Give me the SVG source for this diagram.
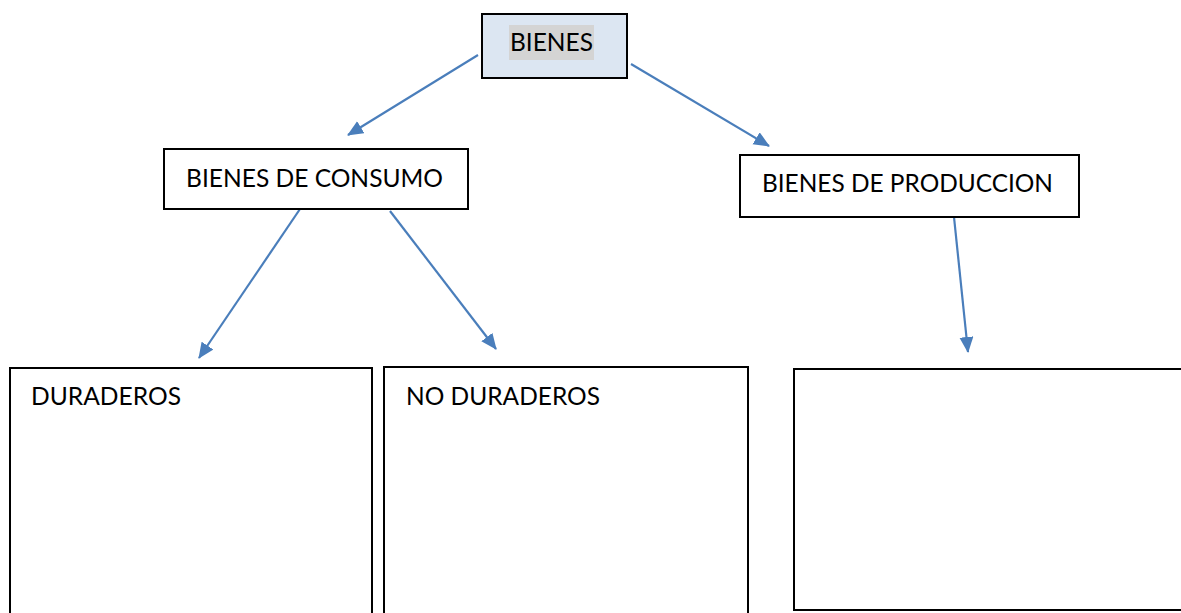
<svg xmlns="http://www.w3.org/2000/svg" width="1181" height="613" viewBox="0 0 1181 613">
  <style>
    .box { fill: #ffffff; stroke: #000000; stroke-width: 2; }
    .label { font-family: Lato, "Open Sans", "Liberation Sans", sans-serif; font-size: 25px; fill: #000000; }
    .conn { stroke: #4A7EBB; stroke-width: 2.2; fill: none; marker-end: url(#arrow); }
  </style>
  <defs>
    <marker id="arrow" markerUnits="userSpaceOnUse" markerWidth="17" markerHeight="15" refX="15" refY="7" orient="auto">
      <path d="M0,0 L16,7 L0,14 z" fill="#4A7EBB"/>
    </marker>
  </defs>
  <rect width="1181" height="613" fill="#ffffff"/>

  <g id="connectors">
    <line class="conn" x1="478" y1="55" x2="348" y2="135"/>
    <line class="conn" x1="631" y1="64" x2="769" y2="146"/>
    <line class="conn" x1="300" y1="209" x2="199" y2="358"/>
    <line class="conn" x1="390" y1="211" x2="496" y2="349"/>
    <line class="conn" x1="954" y1="217" x2="968" y2="352"/>
  </g>

  <g id="node-bienes">
    <rect x="482" y="14" width="145" height="64" fill="#DCE6F2" stroke="#000000" stroke-width="2"/>
    <rect x="509" y="25" width="85" height="35" fill="#D4D4D4"/>
    <text class="label" x="510" y="51" textLength="83" lengthAdjust="spacingAndGlyphs">BIENES</text>
  </g>

  <g id="node-consumo">
    <rect class="box" x="164" y="149" width="304" height="60"/>
    <text class="label" x="186" y="187" textLength="257" lengthAdjust="spacingAndGlyphs">BIENES DE CONSUMO</text>
  </g>

  <g id="node-produccion">
    <rect class="box" x="740" y="155" width="339" height="62"/>
    <text class="label" x="762" y="192" textLength="291" lengthAdjust="spacingAndGlyphs">BIENES DE PRODUCCION</text>
  </g>

  <g id="node-duraderos">
    <rect class="box" x="10" y="368" width="362" height="250"/>
    <text class="label" x="31" y="405" textLength="150" lengthAdjust="spacingAndGlyphs">DURADEROS</text>
  </g>

  <g id="node-no-duraderos">
    <rect class="box" x="384" y="367" width="364" height="251"/>
    <text class="label" x="406" y="405" textLength="194" lengthAdjust="spacingAndGlyphs">NO DURADEROS</text>
  </g>

  <g id="node-produccion-child">
    <rect class="box" x="794" y="369" width="400" height="241"/>
  </g>
</svg>
